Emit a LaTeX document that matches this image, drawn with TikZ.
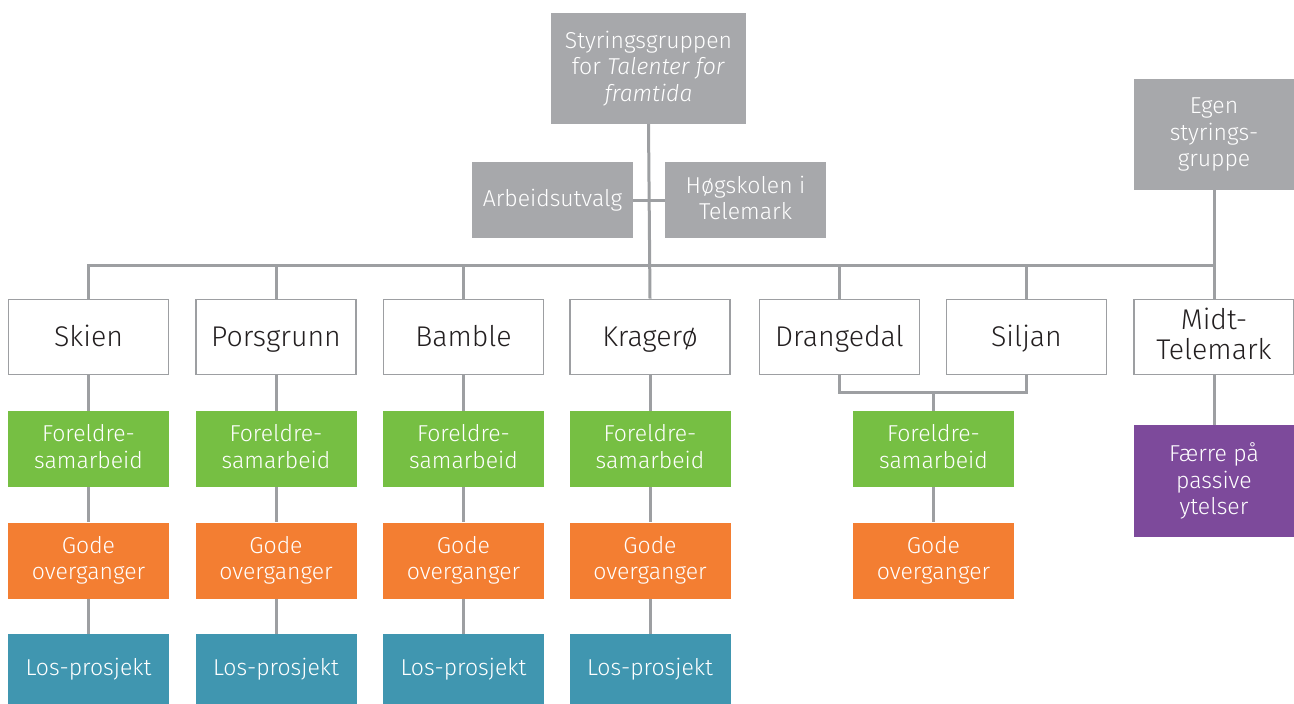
\documentclass[tikz,border=0pt]{standalone}
\usepackage{fontspec}
\setmainfont{Fira Sans}[UprightFont=* Light,ItalicFont=* Light Italic]
\definecolor{boxgrey}{HTML}{A7A8AB}
\definecolor{linegrey}{HTML}{9D9FA2}
\definecolor{fgreen}{HTML}{76BF43}
\definecolor{forange}{HTML}{F37E32}
\definecolor{fteal}{HTML}{4096B0}
\definecolor{fpurple}{HTML}{7D4A9B}
\definecolor{txtdark}{HTML}{231F20}
\newcommand{\capstrut}{\rule[-0.2em]{0pt}{0.89em}}
\newcommand{\kapstrut}{\rule[-0.2em]{0pt}{1.1em}}
\begin{document}
\begin{tikzpicture}[x=1pt,y=-1pt]
	\tikzstyle{every node}+=[inner sep=0pt,align=center,execute at begin node=\capstrut,execute at end node=\capstrut]
	\tikzstyle{conn}=[draw=linegrey,line width=3pt]
	\tikzstyle{kommune}=[draw=linegrey,line width=1.6pt,fill=white,text=txtdark,minimum width=160pt,minimum height=75pt,font=\fontsize{28.5}{30}\selectfont,execute at begin node=\kapstrut]
	\tikzstyle{tiltak}=[text=white,minimum width=161pt,minimum height=76pt,font=\fontsize{23}{26.5}\selectfont]
	\tikzstyle{styre}=[fill=boxgrey,text=white,font=\fontsize{23}{26.5}\selectfont]
	\useasboundingbox (0,0) rectangle (1294,704);
	\node [styre,minimum width=195pt,minimum height=111pt] (sty) at (648.5,68.5) {Styringsgruppen\\for \textit{Talenter for}\\\textit{framtida}};
	\node [styre,minimum width=161pt,minimum height=76pt] (arb) at (552.5,200) {Arbeidsutvalg};
	\node [styre,minimum width=161pt,minimum height=76pt] (hsk) at (745.5,200) {Høgskolen i\\Telemark};
	\node [styre,minimum width=160pt,minimum height=111pt] (egen) at (1214,134.5) {Egen\\styrings-\\gruppe};
	\node [kommune] (skien) at (88.5,337) {Skien};
	\node [kommune] (porsgrunn) at (276,337) {Porsgrunn};
	\node [kommune] (bamble) at (463.5,337) {Bamble};
	\node [kommune] (kragero) at (650,337) {Kragerø};
	\node [kommune] (drangedal) at (839.5,337) {Drangedal};
	\node [kommune] (siljan) at (1026.5,337) {Siljan};
	\node [kommune] (midt) at (1214,337) {Midt-\\Telemark};
	\foreach \k/\x in {skien/88.5,porsgrunn/276,bamble/463.5,kragero/650,ds/933.5}{
		\node [tiltak,fill=fgreen] (fs\k) at (\x,449) {Foreldre-\\samarbeid};
		\node [tiltak,fill=forange] (go\k) at (\x,560.5) {Gode\\overganger};
	}
	\foreach \k/\x in {skien/88.5,porsgrunn/276,bamble/463.5,kragero/650}{
		\node [tiltak,fill=fteal,minimum height=70pt] (los\k) at (\x,669) {Los-prosjekt};
	}
	\node [tiltak,fill=fpurple,minimum width=160pt,minimum height=112pt] (passiv) at (1214,481) {Færre på\\passive\\ytelser};
	\coordinate (bus) at (0,265);
	\coordinate (dsjoin) at (933.5,392);
	\draw [conn] (sty.south) -- (kragero.north);
	\draw [conn] (arb.east) -- (hsk.west);
	\draw [conn] (egen.south) -- (midt.north);
	\draw [conn] (skien.north) |- (bus -| midt.north);
	\foreach \k in {porsgrunn,bamble,drangedal,siljan}
		\draw [conn] (\k.north) -- (\k.north |- bus);
	\draw [conn] (drangedal.south) |- (dsjoin) -| (siljan.south);
	\draw [conn] (dsjoin) -- (fsds.north);
	\draw [conn] (fsds.south) -- (gods.north);
	\foreach \k in {skien,porsgrunn,bamble,kragero}{
		\draw [conn] (\k.south) -- (fs\k.north);
		\draw [conn] (fs\k.south) -- (go\k.north);
		\draw [conn] (go\k.south) -- (los\k.north);
	}
	\draw [conn] (midt.south) -- (passiv.north);
\end{tikzpicture}
\end{document}
